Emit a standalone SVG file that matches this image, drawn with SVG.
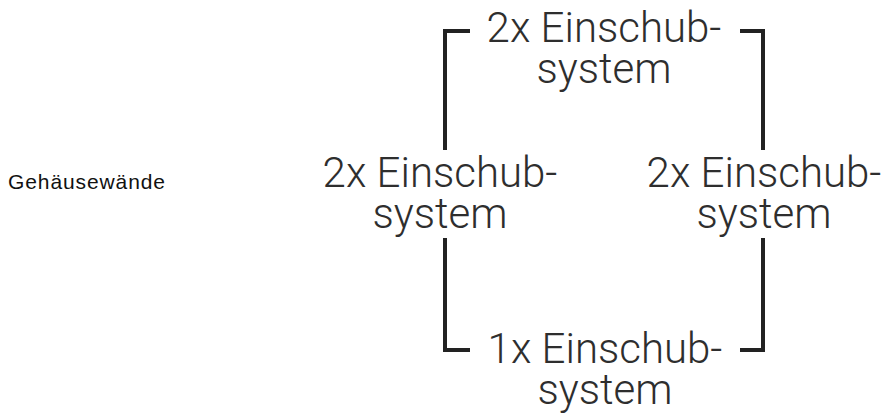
<svg xmlns="http://www.w3.org/2000/svg" width="888" height="414" viewBox="0 0 888 414">
  <style>
    .lbl { font-family: Roboto, "Liberation Sans", Arial, sans-serif; font-weight: 300; font-size: 42px; fill: #2e2e2e; text-anchor: middle; }
    .side { font-family: "Liberation Sans", Arial, sans-serif; font-size: 21px; fill: #111; }
    .br { fill: none; stroke: #222; stroke-width: 4; stroke-linejoin: miter; stroke-linecap: butt; }
  </style>
  <rect width="888" height="414" fill="#fff"/>
  <g id="connectors">
    <path class="br" d="M470,31 H445 V150"/>
    <path class="br" d="M740,31 H763 V150"/>
    <path class="br" d="M445,238 V350 H470"/>
    <path class="br" d="M763,238 V350 H740"/>
  </g>
  <g id="gehaeusewaende">
    <text class="side" x="8" y="189" textLength="157" lengthAdjust="spacing">Gehäusewände</text>
  </g>
  <g id="top">
    <text class="lbl"><tspan x="604" y="42">2x Einschub-</tspan><tspan x="604" y="83">system</tspan></text>
  </g>
  <g id="left">
    <text class="lbl"><tspan x="440" y="187">2x Einschub-</tspan><tspan x="440" y="228">system</tspan></text>
  </g>
  <g id="right">
    <text class="lbl"><tspan x="764" y="187">2x Einschub-</tspan><tspan x="764" y="228">system</tspan></text>
  </g>
  <g id="bottom">
    <text class="lbl"><tspan x="605" y="363">1x Einschub-</tspan><tspan x="605" y="404">system</tspan></text>
  </g>
</svg>
